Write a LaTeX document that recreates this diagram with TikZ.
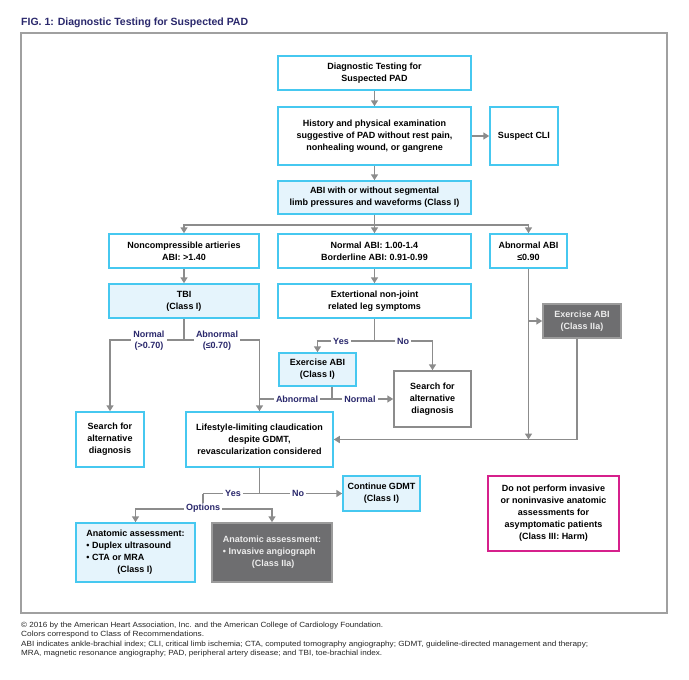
\documentclass[tikz,border=0pt]{standalone}
\usepackage{fontspec}
\usepackage{graphicx}
\setmainfont{Liberation Sans}
\usetikzlibrary{arrows.meta}
\definecolor{cyb}{RGB}{70,200,240}
\definecolor{lb}{RGB}{229,244,252}
\definecolor{lc}{RGB}{140,140,140}
\definecolor{dg}{RGB}{110,110,112}
\definecolor{dgb}{RGB}{155,155,155}
\definecolor{gtxt}{RGB}{236,236,236}
\definecolor{navy}{RGB}{42,40,108}
\definecolor{mag}{RGB}{214,32,140}
\definecolor{framec}{RGB}{160,160,160}
\begin{document}
\begin{tikzpicture}[x=1pt,y=-1pt,
  box/.style={draw=cyb, line width=1.5pt, fill=white, align=center, text=black,
    font=\fontsize{9}{12}\selectfont\bfseries, inner sep=0pt},
  lbox/.style={box, fill=lb},
  gbox/.style={box, fill=dg, draw=dgb, text=gtxt},
  sz/.style 2 args={minimum width=#1pt, minimum height=#2pt},
  ln/.style={draw=lc, line width=1.6pt},
  arr/.style={ln, -{Triangle[width=7pt,length=6pt]}},
  lbl/.style={fill=white, text=navy, font=\fontsize{9}{11}\selectfont\bfseries,
    inner xsep=2pt, inner ysep=1pt, align=center},
  fn/.style={anchor=base west, inner sep=0pt, text=black!85}
]
\useasboundingbox (0,0) rectangle (689,680);
\fill[white] (0,0) rectangle (689,680);

% title and frame
\node[anchor=base west, inner sep=0pt, text=navy, font=\fontsize{10.5}{12}\selectfont\bfseries] (title) at (21,25) {FIG. 1: Diagnostic Testing for Suspected PAD};
\draw[framec, line width=1.5pt] (21,33) rectangle (667,613);

% boxes
\node[box, sz={193}{34}] (top) at (374.5,73) {Diagnostic Testing for\\Suspected PAD};
\node[box, sz={193}{58}] (hist) at (374.5,136) {History and physical examination\\suggestive of PAD without rest pain,\\nonhealing wound, or gangrene};
\node[box, sz={68}{58}] (cli) at (524,136) {Suspect CLI};
\node[lbox, sz={193}{33}] (abi) at (374.5,197.5) {ABI with or without segmental\\limb pressures and waveforms (Class I)};
\node[box, sz={150}{34}] (noncomp) at (184,251) {Noncompressible artieries\\ABI: >1.40};
\node[box, sz={193}{34}] (normal) at (374.5,251) {Normal ABI: 1.00-1.4\\Borderline ABI: 0.91-0.99};
\node[box, sz={77}{34}] (abnormal) at (528.5,251) {Abnormal ABI\\≤0.90};
\node[lbox, sz={150}{34}] (tbi) at (184,301) {TBI\\(Class I)};
\node[box, sz={193}{34}] (ext) at (374.5,301) {Extertional non-joint\\related leg symptoms};
\node[gbox, sz={78}{34}] (exiia) at (582,321) {Exercise ABI\\(Class IIa)};
\node[lbox, sz={77}{33}] (exi) at (317.5,369.5) {Exercise ABI\\(Class I)};
\node[box, draw=lc, sz={77}{56}] (search2) at (432.5,399) {Search for\\alternative\\diagnosis};
\node[box, sz={68}{55}] (search1) at (110,439.5) {Search for\\alternative\\diagnosis};
\node[box, sz={147}{55}] (life) at (259.5,439.5) {Lifestyle-limiting claudication\\despite GDMT,\\revascularization considered};
\node[lbox, sz={77}{35}] (cont) at (381.5,493.5) {Continue GDMT\\(Class I)};
\node[box, draw=mag, sz={131}{75}] (donot) at (553.5,513.5) {Do not perform invasive\\or noninvasive anatomic\\assessments for\\asymptomatic patients\\(Class III: Harm)};
\node[lbox, sz={119}{59}, align=left] (anat1) at (135.5,552.5) {Anatomic assessment:\\• Duplex ultrasound\\• CTA or MRA\\\hspace*{31pt}(Class I)};
\node[gbox, sz={120}{59}, align=left] (anat2) at (272,552.5) {Anatomic assessment:\\• Invasive angiograph\\\hspace*{29pt}(Class IIa)};

% junction coordinates
\coordinate (j1) at (374.5,225);
\coordinate (j2) at (184,340);
\coordinate (j3) at (374.5,341);
\coordinate (j4) at (332,399);
\coordinate (j5) at (528.5,439.5);
\coordinate (j6) at (577,439.5);
\coordinate (j7) at (259.5,493.5);
\coordinate (j8) at (203,493.5);
\coordinate (j9) at (203,509);

% connectors
\draw[arr] (top) -- (hist);
\draw[arr] (hist.east) -- (cli.west);
\draw[arr] (hist) -- (abi);
\draw[ln] (abi.south) -- (j1);
\draw[arr] (j1) -| (noncomp.north);
\draw[arr] (j1) -| (abnormal.north);
\draw[arr] (j1) -- (normal.north);
\draw[arr] (noncomp) -- (tbi);
\draw[arr] (normal) -- (ext);
\draw[ln] (tbi.south) -- (j2);
\draw[arr] (j2) -| (search1.north);
\draw[arr] (j2) -| (life.north);
\draw[ln] (ext.south) -- (j3);
\draw[arr] (j3) -| (exi.north);
\draw[arr] (j3) -| (search2.north);
\draw[ln] (j4 |- exi.south) -- (j4);
\draw[ln] (j4) -- (j4 -| life.north);
\draw[arr] (j4) -- (search2.west);
\draw[arr] (abnormal.south) -- (j5);
\draw[arr] (abnormal.south |- exiia.west) -- (exiia.west);
\draw[arr] (j6 |- exiia.south) -- (j6) -- (life.east);
\draw[ln] (life.south) -- (j7);
\draw[ln] (j8) -- (j7);
\draw[arr] (j7) -- (cont.west);
\draw[ln] (j8) -- (j9);
\draw[arr] (j9) -| (anat1.north);
\draw[arr] (j9) -| (anat2.north);

% connector labels
\node[lbl] (lnorm) at (149,341) {Normal\\(>0.70)};
\node[lbl] (labn) at (217,341) {Abnormal\\(≤0.70)};
\node[lbl] (lyes1) at (341,341) {Yes};
\node[lbl] (lno1) at (403,341) {No};
\node[lbl] (labn2) at (297,399) {Abnormal};
\node[lbl] (lnorm2) at (360,399) {Normal};
\node[lbl] (lyes2) at (233,493.5) {Yes};
\node[lbl] (lno2) at (298,493.5) {No};
\node[lbl] (lopt) at (203,508) {Options};

% footnotes
\node[fn] (fn1) at (21,627) {\resizebox{362pt}{\height}{\fontsize{7.5}{8}\selectfont © 2016 by the American Heart Association, Inc. and the American College of Cardiology Foundation.}};
\node[fn] (fn2) at (21,636.5) {\resizebox{183pt}{\height}{\fontsize{7.5}{8}\selectfont Colors correspond to Class of Recommendations.}};
\node[fn] (fn3) at (21,646) {\resizebox{567pt}{\height}{\fontsize{7.5}{8}\selectfont ABI indicates ankle-brachial index; CLI, critical limb ischemia; CTA, computed tomography angiography; GDMT, guideline-directed management and therapy;}};
\node[fn] (fn4) at (21,655.5) {\resizebox{361pt}{\height}{\fontsize{7.5}{8}\selectfont MRA, magnetic resonance angiography; PAD, peripheral artery disease; and TBI, toe-brachial index.}};
\end{tikzpicture}
\end{document}
